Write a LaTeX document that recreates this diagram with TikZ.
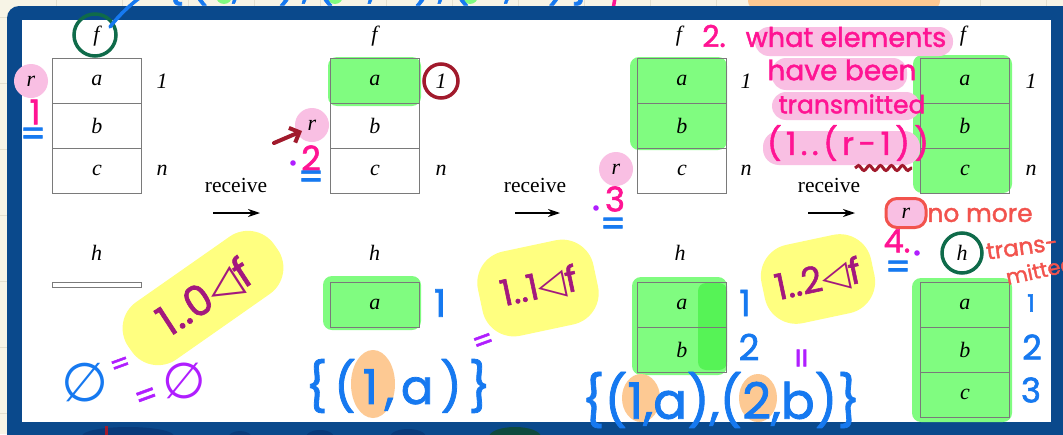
\documentclass[tikz,border=0pt]{standalone}
\usepackage{fontspec}
\setmainfont{Liberation Serif}
\newfontfamily\hand{Poppins}[FakeBold=1.6]
\newfontfamily\handwide{Poppins}[LetterSpace=14,FakeBold=1.6]
\newfontfamily\symf{DejaVu Sans}
\usetikzlibrary{arrows.meta,decorations.pathmorphing}
\definecolor{frameblue}{HTML}{0A498C}
\definecolor{cream}{HTML}{F7F4E6}
\definecolor{gridc}{HTML}{E4E0CF}
\definecolor{hlgreen}{HTML}{80FC80}
\definecolor{hlgreen2}{HTML}{45F045}
\definecolor{hlpink}{HTML}{F9BFE3}
\definecolor{hlyellow}{HTML}{FFFF80}
\definecolor{hlorange}{HTML}{FDC993}
\definecolor{inkpink}{HTML}{FF1493}
\definecolor{inkblue}{HTML}{1679F0}
\definecolor{inkpurple}{HTML}{B01EFF}
\definecolor{inkplum}{HTML}{A3187E}
\definecolor{inkred}{HTML}{A11A2C}
\definecolor{inkgreen}{HTML}{0F6B4A}
\definecolor{inkcoral}{HTML}{F2534D}
\definecolor{cellgray}{HTML}{7A7A7A}
\definecolor{blobnavy}{HTML}{083A7A}
\definecolor{blobgreen}{HTML}{0E4A3E}
\tikzset{
  every node/.style={inner sep=0pt},
  cell/.style={draw=cellgray, line width=0.8pt, minimum width=89pt, minimum height=45pt,
    anchor=north west, font=\fontsize{22}{26}\selectfont\itshape},
  lbl/.style={font=\fontsize{22}{26}\selectfont\itshape},
  recv/.style={font=\fontsize{21.5}{26}\selectfont},
  recvarrow/.style={-{Stealth[length=12pt,width=8pt]}, line width=1.1pt},
  greenhl/.style={fill=hlgreen, rounded corners=9pt},
  rmark/.style={circle, fill=hlpink, minimum size=34pt, font=\fontsize{22}{26}\selectfont\itshape},
  yellowhl/.style={fill=hlyellow, rounded corners=32pt},
  hw/.style={font={\hand\fontsize{#1}{#1}\selectfont}},
  hwide/.style={font={\handwide\fontsize{#1}{#1}\selectfont}},
  marker/.style={line width=3.5pt, line cap=round},
}
\begin{document}
\begin{tikzpicture}[x=1pt,y=-1pt]
\useasboundingbox (0,0) rectangle (1063,434);
% paper background
\fill[cream] (0,0) rectangle (1063,434);
\foreach \gx in {56,122,...,1063} \draw[gridc,line width=0.7pt] (\gx,0) -- (\gx,434);
\foreach \gy in {17,83,...,434} \draw[gridc,line width=0.7pt] (0,\gy) -- (1063,\gy);
% annotations above the frame (mostly hidden)
\fill[hlorange, rounded corners=8pt] (748,-14) rectangle (940,9);
\fill[hlgreen] (224,-4) circle (8pt);
\fill[hlgreen] (335,-4) circle (8pt);
\fill[hlgreen] (470,-4) circle (8pt);
\node[hwide=40, text=inkblue] (topset) at (378,-17) {\{(1,a),(2,b),(3,c)\}};
\draw[inkpink, marker] (615,-2) .. controls (612,15) .. (611,33);
% frame
\fill[frameblue, rounded corners=12pt] (7,6) rectangle (1090,470);
\fill[white] (22,20) rectangle (1051,422);
% bottom blobs on the frame
\fill[blobnavy] (128,436) ellipse (46pt and 9pt);
\fill[blobnavy] (240,438) ellipse (12pt and 7pt);
\fill[blobnavy] (320,437) ellipse (14pt and 7pt);
\fill[blobnavy] (408,437) ellipse (18pt and 8pt);
\fill[blobgreen] (515,437) ellipse (26pt and 10pt);
\draw[inkred, line width=3pt] (106,426) -- (106,440);

% ---------- highlights ----------
\fill[greenhl] (328,57) rectangle (421,106);
\fill[greenhl] (323,276) rectangle (421,330);
\fill[greenhl] (630,57) rectangle (727,150);
\fill[greenhl] (632,277) rectangle (727,375);
\fill[hlgreen2, opacity=0.7, rounded corners=8pt] (698,283) rectangle (727,370);
\fill[greenhl] (913,55) rectangle (1012,193);
\fill[greenhl] (912,278) rectangle (1012,422);

\node[yellowhl, rotate=35, minimum width=178pt, minimum height=70pt] (y1) at (203,298) {};
\node[yellowhl, rotate=12, minimum width=118pt, minimum height=86pt] (y2) at (538,288) {};
\node[yellowhl, rotate=12, minimum width=112pt, minimum height=80pt] (y3) at (818,279) {};

\fill[hlorange] (373,384) ellipse (22pt and 34pt);
\fill[hlorange] (641,398) ellipse (19pt and 24pt);
\fill[hlorange] (758,398) ellipse (19pt and 24pt);

\fill[hlpink, rounded corners=14pt] (755,27) rectangle (953,56);
\fill[hlpink, rounded corners=14pt] (772,58) rectangle (907,90);
\fill[hlpink, rounded corners=14pt] (772,92) rectangle (920,120);
\fill[hlpink, rounded corners=16pt] (763,131) rectangle (920,165);

% ---------- stage 1 ----------
\node[lbl] (f1) at (96.5,36) {f};
\node[cell] (f1a) at (52,58) {a};
\node[cell] (f1b) at (52,103) {b};
\node[cell] (f1c) at (52,148) {c};
\node[lbl] (f1one) at (162,81) {1};
\node[lbl] (f1n) at (162,170) {n};
\node[rmark] (r1) at (31,81) {r};
\node[recv] (rc1) at (236,185) {receive};
\coordinate (a1s) at (213,213); \coordinate (a1e) at (260,213);
\draw[recvarrow] (a1s) -- (a1e);
\node[lbl] (h1) at (96.5,253) {h};
\node[draw=cellgray, line width=0.8pt, minimum width=89pt, minimum height=5pt, anchor=north west] (h1box) at (52,282) {};

% ---------- stage 2 ----------
\node[lbl] (f2) at (374.5,36) {f};
\node[cell] (f2a) at (330,58) {a};
\node[cell] (f2b) at (330,103) {b};
\node[cell] (f2c) at (330,148) {c};
\node[lbl] (f2one) at (441,81) {1};
\node[lbl] (f2n) at (441,170) {n};
\node[rmark] (r2) at (312,125) {r};
\node[recv] (rc2) at (535,185) {receive};
\coordinate (a2s) at (515,213); \coordinate (a2e) at (560,213);
\draw[recvarrow] (a2s) -- (a2e);
\node[lbl] (h2) at (374.5,253) {h};
\node[cell] (h2a) at (330,282) {a};

% ---------- stage 3 ----------
\node[lbl] (f3) at (679,36) {f};
\node[cell] (f3a) at (637,58) {a};
\node[cell] (f3b) at (637,103) {b};
\node[cell] (f3c) at (637,148) {c};
\node[lbl] (f3one) at (746,81) {1};
\node[lbl] (f3n) at (746,170) {n};
\node[rmark] (r3) at (616,169) {r};
\node[recv] (rc3) at (829,185) {receive};
\coordinate (a3s) at (808,213); \coordinate (a3e) at (855,213);
\draw[recvarrow] (a3s) -- (a3e);
\node[lbl] (h3) at (680,253) {h};
\node[cell] (h3a) at (637,282) {a};
\node[cell] (h3b) at (637,327) {b};

% ---------- stage 4 ----------
\node[lbl] (f4) at (963,36) {f};
\node[cell] (f4a) at (920,58) {a};
\node[cell] (f4b) at (920,103) {b};
\node[cell] (f4c) at (920,148) {c};
\node[lbl] (f4one) at (1031,81) {1};
\node[lbl] (f4n) at (1031,170) {n};
\node[rmark, circle=false, rectangle, rounded corners=11pt, minimum width=40pt, minimum height=29pt,
      draw=inkcoral, line width=3pt] (r4) at (906,213) {r};
\node[lbl] (h4) at (962,253) {h};
\node[cell] (h4a) at (920,282) {a};
\node[cell] (h4b) at (920,327) {b};
\node[cell] (h4c) at (920,372) {c};

% ---------- handwritten annotations ----------
\draw[inkgreen, marker] (95,35) circle (21pt);
\draw[inkblue, marker] (110,27) .. controls (120,14) and (130,5) .. (142,-4);
\draw[inkred, marker] (f2one) circle (17pt);
\draw[inkgreen, marker] (h4) circle (20pt);
\coordinate (redtail) at (274,143); \coordinate (redtip) at (302,131);
\draw[inkred, line width=4pt, line cap=round, -{Straight Barb[length=8pt,width=16pt]}] (redtail) -- (redtip);
\draw[inkred, line width=3pt, decorate, decoration={snake, amplitude=2.5pt, segment length=11pt}] (855,168) -- (912,168);

% step numbers
\node[hw=34, text=inkpink] (n1) at (35,112) {1};
\node[hw=36, text=inkblue] (e1) at (33,137) {=};
\fill[inkpurple] (293,163) circle (2.8pt);
\node[hw=34, text=inkpink] (n2) at (311,158) {2};
\node[hw=36, text=inkblue] (e2) at (311,180) {=};
\fill[inkpurple] (596,208) circle (2.8pt);
\node[hw=34, text=inkpink] (n3) at (615,199) {3};
\node[hw=36, text=inkblue] (e3) at (613,227) {=};
\node[hw=32, text=inkpink] (n4) at (897,241) {4.};
\fill[inkpurple] (917,253) circle (2.8pt);
\node[hw=36, text=inkblue] (e4) at (898,270) {=};

% question 2
\node[hw=30, text=inkpink] (q2) at (714,36) {2.};
\node[hw=27, text=inkpink] (q2a) at (846,37) {what elements};
\node[hw=28, text=inkpink] (q2b) at (842,70) {have been};
\node[hw=25, text=inkpink] (q2c) at (852,104) {transmitted};
\node[hwide=32, text=inkpink] (q2d) at (848,143) {(1..(r-1))};

% no more transmitted
\node[hw=25, text=inkcoral] (nm1) at (980,215) {no more};
\node[hw=23, text=inkcoral, rotate=8] (nm2) at (1022,247) {trans-};
\node[hw=21, text=inkcoral, rotate=12] (nm3) at (1040,270) {mitted};

% domain restrictions
\node[hw=42, text=inkplum, rotate=33] (d1) at (205,298) {1..0{\symf ◁}f};
\node[hw=36, text=inkplum, rotate=12] (d2) at (539,287) {1..1{\symf ◁}f};
\node[hw=36, text=inkplum, rotate=12] (d3) at (818,280) {1..2{\symf ◁}f};

% empty set
\node[font={\symf\fontsize{54}{54}\selectfont}, text=inkblue] (es1) at (85,383) {∅};
\node[hw=28, text=inkpurple, rotate=20] (eq1) at (121,366) {=};
\node[hw=32, text=inkpurple, rotate=20] (eq2) at (147,398) {=};
\node[font={\symf\fontsize{50}{50}\selectfont}, text=inkpurple] (es2) at (184,381) {∅};

% sets of pairs
\node[hwide=48, text=inkblue] (s1) at (398,386) {\{(1,a)\}};
\node[hw=30, text=inkpurple, rotate=20] (eq3) at (484,343) {=};
\node[hw=50, text=inkblue] (s2) at (721,400) {\{(1,a),(2,b)\}};
\node[hw=32, text=inkpurple, rotate=90] (eq4) at (805,358) {=};

% index numbers
\node[hw=38, text=inkblue] (i21) at (440,303) {1};
\node[hw=36, text=inkblue] (i31) at (745,303) {1};
\node[hw=36, text=inkblue] (i32) at (749,347) {2};
\node[hw=24, text=inkblue] (i41) at (1031,303) {1};
\node[hw=34, text=inkblue] (i42) at (1032,347) {2};
\node[hw=34, text=inkblue] (i43) at (1031,390) {3};
\end{tikzpicture}
\end{document}
